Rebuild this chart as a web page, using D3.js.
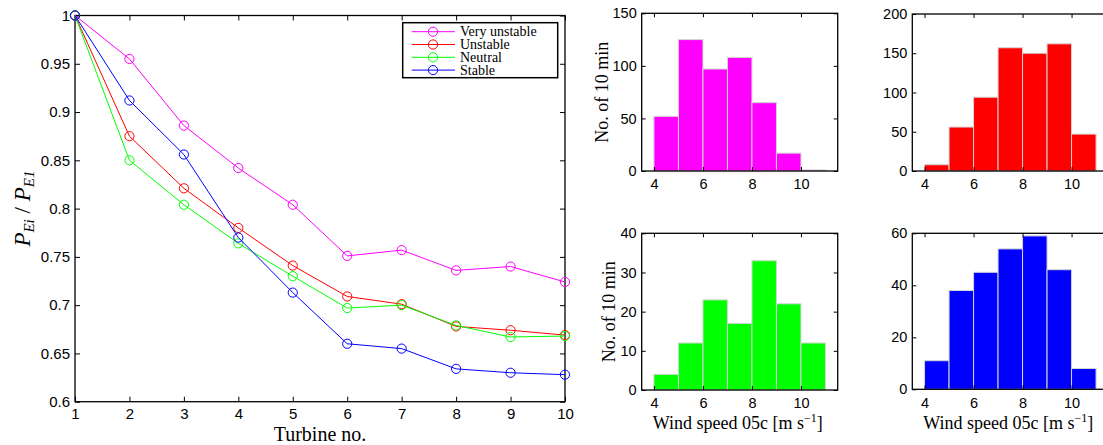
<!DOCTYPE html>
<html>
<head>
<meta charset="utf-8">
<script src="https://cdn.jsdelivr.net/npm/d3@7"></script>
<style>
  body { margin: 0; background: #fff; }
  svg { display: block; }
  .tick text { font-family: "Liberation Sans", Arial, sans-serif; fill: #000; }
</style>
</head>
<body>
<script>
// power ratio per turbine, by stability class
const turbines = [1, 2, 3, 4, 5, 6, 7, 8, 9, 10];
const veryUnstable = [1, 0.955, 0.886, 0.842, 0.804, 0.751, 0.757, 0.736, 0.740, 0.724];
const unstable = [1, 0.875, 0.821, 0.780, 0.741, 0.709, 0.701, 0.678, 0.674, 0.669];
const neutral = [1, 0.850, 0.804, 0.764, 0.730, 0.697, 0.700, 0.679, 0.667, 0.668];
const stable = [1, 0.912, 0.856, 0.770, 0.713, 0.660, 0.655, 0.634, 0.630, 0.628];
const classNames = ["Very unstable", "Unstable", "Neutral", "Stable"];
const yTicksMain = [0.6, 0.65, 0.7, 0.75, 0.8, 0.85, 0.9, 0.95, 1];

// wind speed histograms (bins of 1 m/s from 4 to 11)
const binStarts = [4, 5, 6, 7, 8, 9, 10];
const countsVeryUnstable = [52, 125, 97, 108, 65, 17, 1];
const countsUnstable = [8, 56, 94, 157, 150, 162, 47];
const countsNeutral = [4, 12, 23, 17, 33, 22, 12];
const countsStable = [11, 38, 45, 54, 59, 46, 8];
const windTicks = [4, 6, 8, 10];

const colors = ["#ff00ff", "#ff0000", "#00ff00", "#0000ff"];

const w = 1103;
const h = 445;

const svg = d3.select("body").append("svg").attr("width", w).attr("height", h);

//---------- main line plot ----------
const mLeft = 75, mRight = 565, mTop = 15.5, mBottom = 401.7;

const xScale = d3.scaleLinear().domain([1, 10]).range([mLeft, mRight]);
const yScale = d3.scaleLinear().domain([0.6, 1]).range([mBottom, mTop]);

const main = svg.append("g");

// ticks inside the box, on all four sides
main.append("g")
  .attr("transform", "translate(0," + mBottom + ")")
  .call(d3.axisBottom(xScale).tickValues(turbines).tickSize(-5).tickSizeOuter(0).tickPadding(7))
  .call((g) => g.selectAll("text").style("font-size", "15px"));
main.append("g")
  .attr("transform", "translate(0," + mTop + ")")
  .call(d3.axisTop(xScale).tickValues(turbines).tickSize(-5).tickSizeOuter(0).tickFormat(""));
main.append("g")
  .attr("transform", "translate(" + mLeft + ",0)")
  .call(d3.axisLeft(yScale).tickValues(yTicksMain).tickSize(-5).tickSizeOuter(0).tickPadding(5).tickFormat(d3.format("~g")))
  .call((g) => g.selectAll("text").style("font-size", "15px"));
main.append("g")
  .attr("transform", "translate(" + mRight + ",0)")
  .call(d3.axisRight(yScale).tickValues(yTicksMain).tickSize(-5).tickSizeOuter(0).tickFormat(""));
main.selectAll(".domain").remove();
main.selectAll(".tick line").attr("stroke", "#000");

main.append("rect")
  .attr("x", mLeft).attr("y", mTop)
  .attr("width", mRight - mLeft).attr("height", mBottom - mTop)
  .attr("fill", "none").attr("stroke", "#000").attr("stroke-width", 1.3);

const series = [veryUnstable, unstable, neutral, stable];
const line = d3.line().x((d, i) => xScale(turbines[i])).y((d) => yScale(d));

series.forEach((s, k) => {
  main.append("path")
    .attr("d", line(s))
    .attr("fill", "none")
    .attr("stroke", colors[k])
    .attr("stroke-width", 1);
  main.selectAll(null)
    .data(s)
    .enter()
    .append("circle")
    .attr("cx", (d, i) => xScale(turbines[i]))
    .attr("cy", (d) => yScale(d))
    .attr("r", 4.6)
    .attr("fill", "none")
    .attr("stroke", colors[k])
    .attr("stroke-width", 1);
});

// axis labels
main.append("text")
  .attr("x", (mLeft + mRight) / 2).attr("y", 440.5)
  .attr("text-anchor", "middle")
  .style("font-family", "Liberation Serif, serif").style("font-size", "20px")
  .text("Turbine no.");

const ylab = main.append("text")
  .attr("transform", "translate(30," + (mTop + mBottom) / 2 + ") rotate(-90)")
  .attr("text-anchor", "middle")
  .style("font-family", "Liberation Serif, serif").style("font-style", "italic").style("font-size", "23px");
ylab.append("tspan").text("P");
ylab.append("tspan").attr("dy", 4).style("font-size", "15px").text("Ei");
ylab.append("tspan").attr("dy", -4).style("font-style", "normal").text(" / ");
ylab.append("tspan").text("P");
ylab.append("tspan").attr("dy", 4).style("font-size", "15px").text("E1");

// legend
const legend = main.append("g");
legend.append("rect")
  .attr("x", 402.7).attr("y", 22.7).attr("width", 155).attr("height", 55)
  .attr("fill", "#fff").attr("stroke", "#000").attr("stroke-width", 1.5);
classNames.forEach((name, k) => {
  const yy = 31.7 + k * 12.8;
  legend.append("line")
    .attr("x1", 411.7).attr("x2", 455).attr("y1", yy).attr("y2", yy)
    .attr("stroke", colors[k]).attr("stroke-width", 1);
  legend.append("circle")
    .attr("cx", 433).attr("cy", yy).attr("r", 4.6)
    .attr("fill", "none").attr("stroke", colors[k]);
  legend.append("text")
    .attr("x", 460).attr("y", yy + 4.5)
    .style("font-family", "Liberation Serif, serif").style("font-size", "14px")
    .text(name);
});

//---------- histograms ----------
const panels = [
  { counts: countsVeryUnstable, color: colors[0], x0: 641.7, y0: 171, y1: 13.3, ymax: 150, step: 50, ylabel: true, xlabel: false },
  { counts: countsUnstable, color: colors[1], x0: 912.3, y0: 171, y1: 14, ymax: 200, step: 50, ylabel: false, xlabel: false },
  { counts: countsNeutral, color: colors[2], x0: 641.7, y0: 390, y1: 233.3, ymax: 40, step: 10, ylabel: true, xlabel: true },
  { counts: countsStable, color: colors[3], x0: 912.3, y0: 389.3, y1: 233.3, ymax: 60, step: 20, ylabel: false, xlabel: true },
];

panels.forEach((p) => {
  const x1 = p.x0 + 196;
  const hx = d3.scaleLinear().domain([3.5, 11.5]).range([p.x0, x1]);
  const hy = d3.scaleLinear().domain([0, p.ymax]).range([p.y0, p.y1]);
  const yt = d3.range(0, p.ymax + 1, p.step);
  const g = svg.append("g");

  g.selectAll("rect.bar")
    .data(p.counts)
    .enter()
    .append("rect")
    .attr("class", "bar")
    .attr("x", (d, i) => hx(binStarts[i]))
    .attr("width", (d, i) => hx(binStarts[i] + 1) - hx(binStarts[i]))
    .attr("y", (d) => hy(d))
    .attr("height", (d) => hy(0) - hy(d))
    .attr("fill", p.color)
    .attr("stroke", "#d4d4d4")
    .attr("stroke-width", 1);

  g.append("g")
    .attr("transform", "translate(0," + p.y0 + ")")
    .call(d3.axisBottom(hx).tickValues(windTicks).tickSize(-4).tickSizeOuter(0).tickPadding(8))
    .call((a) => a.selectAll("text").style("font-size", "14.5px"));
  g.append("g")
    .attr("transform", "translate(0," + p.y1 + ")")
    .call(d3.axisTop(hx).tickValues(windTicks).tickSize(-4).tickSizeOuter(0).tickFormat(""));
  g.append("g")
    .attr("transform", "translate(" + p.x0 + ",0)")
    .call(d3.axisLeft(hy).tickValues(yt).tickSize(-4).tickSizeOuter(0).tickPadding(5))
    .call((a) => a.selectAll("text").style("font-size", "14.5px"));
  g.append("g")
    .attr("transform", "translate(" + x1 + ",0)")
    .call(d3.axisRight(hy).tickValues(yt).tickSize(-4).tickSizeOuter(0).tickFormat(""));
  g.selectAll(".domain").remove();
  g.selectAll(".tick line").attr("stroke", "#000");

  g.append("rect")
    .attr("x", p.x0).attr("y", p.y1)
    .attr("width", x1 - p.x0).attr("height", p.y0 - p.y1)
    .attr("fill", "none").attr("stroke", "#000").attr("stroke-width", 1.3);

  if (p.ylabel) {
    const lx = p.ymax >= 100 ? p.x0 - 34 : p.x0 - 27;
    g.append("text")
      .attr("transform", "translate(" + lx + "," + (p.y0 + p.y1) / 2 + ") rotate(-90)")
      .attr("text-anchor", "middle")
      .style("font-family", "Liberation Serif, serif").style("font-size", "18px")
      .text("No. of 10 min");
  }
  if (p.xlabel) {
    const t = g.append("text")
      .attr("x", (p.x0 + x1) / 2 - 2).attr("y", 429)
      .attr("text-anchor", "middle")
      .style("font-family", "Liberation Serif, serif").style("font-size", "18px");
    t.append("tspan").text("Wind speed 05c [m s");
    t.append("tspan").attr("dy", -7).style("font-size", "12px").text("\u22121");
    t.append("tspan").attr("dy", 7).text("]");
  }
});
</script>
</body>
</html>
